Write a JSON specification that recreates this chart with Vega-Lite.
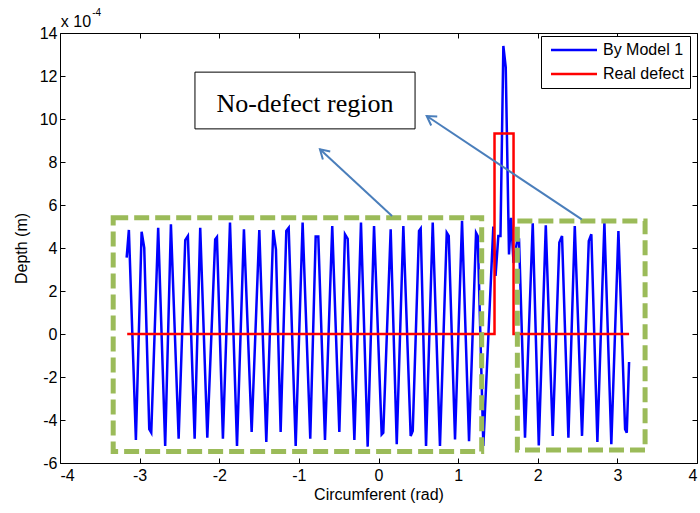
{
  "$schema": "https://vega.github.io/schema/vega-lite/v6.json",
  "width": 637,
  "height": 430,
  "autosize": "none",
  "padding": {"left": 60, "top": 33, "right": 3, "bottom": 50},
  "background": "white",
  "config": {
    "view": {"stroke": "black", "strokeWidth": 1},
    "axis": {
      "grid": false,
      "domain": false,
      "ticks": true,
      "tickSize": -5,
      "tickColor": "black",
      "tickWidth": 1,
      "labelFont": "Liberation Sans",
      "labelFontSize": 16,
      "labelColor": "black",
      "labelExpr": "'' + datum.value",
      "titleFont": "Liberation Sans",
      "titleFontSize": 16,
      "titleFontWeight": "normal",
      "titleColor": "black"
    }
  },
  "datasets": {
    "lines": [
      {"s": "By Model 1", "i": 1, "x": -3.163, "y": 3.55},
      {"s": "By Model 1", "i": 2, "x": -3.135, "y": 4.84},
      {"s": "By Model 1", "i": 3, "x": -3.047, "y": -4.93},
      {"s": "By Model 1", "i": 4, "x": -2.975, "y": 4.76},
      {"s": "By Model 1", "i": 5, "x": -2.942, "y": 4.01},
      {"s": "By Model 1", "i": 6, "x": -2.879, "y": -4.43},
      {"s": "By Model 1", "i": 7, "x": -2.854, "y": -4.59},
      {"s": "By Model 1", "i": 8, "x": -2.767, "y": 4.94},
      {"s": "By Model 1", "i": 9, "x": -2.679, "y": -5.21},
      {"s": "By Model 1", "i": 10, "x": -2.607, "y": 5.10},
      {"s": "By Model 1", "i": 11, "x": -2.510, "y": -4.87},
      {"s": "By Model 1", "i": 12, "x": -2.427, "y": 4.37},
      {"s": "By Model 1", "i": 13, "x": -2.394, "y": 4.56},
      {"s": "By Model 1", "i": 14, "x": -2.309, "y": -4.87},
      {"s": "By Model 1", "i": 15, "x": -2.239, "y": 4.94},
      {"s": "By Model 1", "i": 16, "x": -2.150, "y": -4.82},
      {"s": "By Model 1", "i": 17, "x": -2.051, "y": 4.40},
      {"s": "By Model 1", "i": 18, "x": -2.029, "y": 4.51},
      {"s": "By Model 1", "i": 19, "x": -1.954, "y": -4.87},
      {"s": "By Model 1", "i": 20, "x": -1.865, "y": 5.18},
      {"s": "By Model 1", "i": 21, "x": -1.777, "y": -5.21},
      {"s": "By Model 1", "i": 22, "x": -1.690, "y": 4.87},
      {"s": "By Model 1", "i": 23, "x": -1.593, "y": -4.56},
      {"s": "By Model 1", "i": 24, "x": -1.497, "y": 4.84},
      {"s": "By Model 1", "i": 25, "x": -1.409, "y": -5.02},
      {"s": "By Model 1", "i": 26, "x": -1.322, "y": 4.84},
      {"s": "By Model 1", "i": 27, "x": -1.288, "y": 3.94},
      {"s": "By Model 1", "i": 28, "x": -1.229, "y": -4.56},
      {"s": "By Model 1", "i": 29, "x": -1.158, "y": 4.79},
      {"s": "By Model 1", "i": 30, "x": -1.128, "y": 4.94},
      {"s": "By Model 1", "i": 31, "x": -1.040, "y": -5.21},
      {"s": "By Model 1", "i": 32, "x": -0.953, "y": 5.18},
      {"s": "By Model 1", "i": 33, "x": -0.857, "y": -4.87},
      {"s": "By Model 1", "i": 34, "x": -0.789, "y": 4.53},
      {"s": "By Model 1", "i": 35, "x": -0.756, "y": 4.53},
      {"s": "By Model 1", "i": 36, "x": -0.672, "y": -4.93},
      {"s": "By Model 1", "i": 37, "x": -0.581, "y": 5.02},
      {"s": "By Model 1", "i": 38, "x": -0.492, "y": -4.56},
      {"s": "By Model 1", "i": 39, "x": -0.421, "y": 4.64},
      {"s": "By Model 1", "i": 40, "x": -0.387, "y": 4.43},
      {"s": "By Model 1", "i": 41, "x": -0.303, "y": -4.93},
      {"s": "By Model 1", "i": 42, "x": -0.220, "y": 5.18},
      {"s": "By Model 1", "i": 43, "x": -0.136, "y": -5.24},
      {"s": "By Model 1", "i": 44, "x": -0.056, "y": 5.02},
      {"s": "By Model 1", "i": 45, "x": 0.040, "y": -4.67},
      {"s": "By Model 1", "i": 46, "x": 0.060, "y": -4.59},
      {"s": "By Model 1", "i": 47, "x": 0.153, "y": 4.87},
      {"s": "By Model 1", "i": 48, "x": 0.229, "y": -5.13},
      {"s": "By Model 1", "i": 49, "x": 0.312, "y": 5.02},
      {"s": "By Model 1", "i": 50, "x": 0.404, "y": -4.74},
      {"s": "By Model 1", "i": 51, "x": 0.430, "y": -4.51},
      {"s": "By Model 1", "i": 52, "x": 0.509, "y": 4.79},
      {"s": "By Model 1", "i": 53, "x": 0.530, "y": 4.90},
      {"s": "By Model 1", "i": 54, "x": 0.597, "y": -5.21},
      {"s": "By Model 1", "i": 55, "x": 0.681, "y": 5.18},
      {"s": "By Model 1", "i": 56, "x": 0.772, "y": -5.21},
      {"s": "By Model 1", "i": 57, "x": 0.857, "y": 4.71},
      {"s": "By Model 1", "i": 58, "x": 0.882, "y": 4.56},
      {"s": "By Model 1", "i": 59, "x": 0.961, "y": -4.90},
      {"s": "By Model 1", "i": 60, "x": 1.049, "y": 5.26},
      {"s": "By Model 1", "i": 61, "x": 1.137, "y": -4.99},
      {"s": "By Model 1", "i": 62, "x": 1.225, "y": 4.71},
      {"s": "By Model 1", "i": 63, "x": 1.246, "y": 4.56},
      {"s": "By Model 1", "i": 64, "x": 1.317, "y": -5.21},
      {"s": "By Model 1", "i": 65, "x": 1.442, "y": 5.0},
      {"s": "By Model 1", "i": 66, "x": 1.470, "y": 2.7},
      {"s": "By Model 1", "i": 67, "x": 1.505, "y": 4.56},
      {"s": "By Model 1", "i": 68, "x": 1.532, "y": 4.56},
      {"s": "By Model 1", "i": 69, "x": 1.568, "y": 13.4},
      {"s": "By Model 1", "i": 70, "x": 1.598, "y": 12.4},
      {"s": "By Model 1", "i": 71, "x": 1.639, "y": 3.7},
      {"s": "By Model 1", "i": 72, "x": 1.665, "y": 5.4},
      {"s": "By Model 1", "i": 73, "x": 1.696, "y": 3.3},
      {"s": "By Model 1", "i": 74, "x": 1.744, "y": 4.4},
      {"s": "By Model 1", "i": 75, "x": 1.765, "y": 4.4},
      {"s": "By Model 1", "i": 76, "x": 1.840, "y": -4.82},
      {"s": "By Model 1", "i": 77, "x": 1.937, "y": 5.15},
      {"s": "By Model 1", "i": 78, "x": 2.013, "y": -5.18},
      {"s": "By Model 1", "i": 79, "x": 2.101, "y": 5.06},
      {"s": "By Model 1", "i": 80, "x": 2.188, "y": -4.74},
      {"s": "By Model 1", "i": 81, "x": 2.271, "y": 4.25},
      {"s": "By Model 1", "i": 82, "x": 2.305, "y": 4.56},
      {"s": "By Model 1", "i": 83, "x": 2.385, "y": -4.82},
      {"s": "By Model 1", "i": 84, "x": 2.465, "y": 5.02},
      {"s": "By Model 1", "i": 85, "x": 2.556, "y": -4.74},
      {"s": "By Model 1", "i": 86, "x": 2.641, "y": 4.33},
      {"s": "By Model 1", "i": 87, "x": 2.673, "y": 4.64},
      {"s": "By Model 1", "i": 88, "x": 2.749, "y": -5.02},
      {"s": "By Model 1", "i": 89, "x": 2.837, "y": 5.18},
      {"s": "By Model 1", "i": 90, "x": 2.924, "y": -5.13},
      {"s": "By Model 1", "i": 91, "x": 3.013, "y": 4.79},
      {"s": "By Model 1", "i": 92, "x": 3.097, "y": -4.43},
      {"s": "By Model 1", "i": 93, "x": 3.118, "y": -4.59},
      {"s": "By Model 1", "i": 94, "x": 3.147, "y": -1.30},
      {"s": "Real defect", "i": 1, "x": -3.156, "y": 0},
      {"s": "Real defect", "i": 2, "x": 1.457, "y": 0},
      {"s": "Real defect", "i": 3, "x": 1.457, "y": 9.32},
      {"s": "Real defect", "i": 4, "x": 1.696, "y": 9.32},
      {"s": "Real defect", "i": 5, "x": 1.696, "y": 0},
      {"s": "Real defect", "i": 6, "x": 3.147, "y": 0}
    ],
    "regions": [
      {"x1": -3.332, "x2": 1.296, "y1": 5.41, "y2": -5.47},
      {"x1": 1.744, "x2": 3.348, "y1": 5.26, "y2": -5.40}
    ],
    "note": [
      {"x1": -2.305, "x2": 0.459, "y1": 12.18, "y2": 9.54, "x": -0.923, "y": 10.71, "label": "No-defect region"}
    ],
    "arrows": [
      {"x": 0.170, "y": 5.49, "x2": -0.735, "y2": 8.59},
      {"x": 2.553, "y": 5.33, "x2": 0.606, "y2": 10.14}
    ]
  },
  "layer": [
    {
      "data": {"name": "lines"},
      "mark": {"type": "line", "strokeWidth": 2.5},
      "encoding": {
        "x": {
          "field": "x", "type": "quantitative",
          "scale": {"domain": [-4, 4], "nice": false, "zero": false},
          "axis": {"orient": "bottom", "values": [-4, -3, -2, -1, 0, 1, 2, 3, 4], "title": "Circumferent (rad)", "labelPadding": 9, "titlePadding": 3}
        },
        "y": {
          "field": "y", "type": "quantitative",
          "scale": {"domain": [-6, 14], "nice": false, "zero": false},
          "axis": {"orient": "left", "values": [-6, -4, -2, 0, 2, 4, 6, 8, 10, 12, 14], "title": "Depth (m)", "labelPadding": 8, "titlePadding": 10}
        },
        "order": {"field": "i", "type": "quantitative"},
        "color": {
          "field": "s", "type": "nominal",
          "scale": {"domain": ["By Model 1", "Real defect"], "range": ["#0000FF", "#FF0000"]},
          "legend": {
            "title": null,
            "orient": "none",
            "legendX": 481,
            "legendY": 3,
            "symbolType": "M-4.6,0L4.6,0",
            "symbolSize": 100,
            "symbolStrokeWidth": 2.5,
            "symbolOffset": 19,
            "labelFont": "Liberation Sans",
            "labelFontSize": 16,
            "labelColor": "black",
            "labelOffset": 21,
            "rowPadding": 8,
            "padding": 6,
            "strokeColor": "black",
            "fillColor": "white"
          }
        }
      }
    },
    {
      "data": {"name": "regions"},
      "mark": {"type": "rect", "fillOpacity": 0, "stroke": "#9BBB59", "strokeWidth": 5, "strokeDash": [15, 6]},
      "encoding": {
        "x": {
          "field": "x1", "type": "quantitative",
          "scale": {"domain": [-4, 4], "nice": false, "zero": false},
          "axis": {"orient": "top", "values": [-4, -3, -2, -1, 0, 1, 2, 3, 4], "labels": false, "title": null}
        },
        "x2": {"field": "x2"},
        "y": {
          "field": "y1", "type": "quantitative",
          "scale": {"domain": [-6, 14], "nice": false, "zero": false},
          "axis": {"orient": "right", "values": [-6, -4, -2, 0, 2, 4, 6, 8, 10, 12, 14], "labels": false, "title": null}
        },
        "y2": {"field": "y2"}
      }
    },
    {
      "data": {"name": "note"},
      "mark": {"type": "rect", "fill": "white", "stroke": "black", "strokeWidth": 1},
      "encoding": {
        "x": {"field": "x1", "type": "quantitative", "scale": {"domain": [-4, 4], "nice": false, "zero": false}, "axis": null},
        "x2": {"field": "x2"},
        "y": {"field": "y1", "type": "quantitative", "scale": {"domain": [-6, 14], "nice": false, "zero": false}, "axis": null},
        "y2": {"field": "y2"}
      }
    },
    {
      "data": {"name": "note"},
      "mark": {"type": "text", "font": "Liberation Serif", "fontSize": 26, "color": "black", "align": "center", "baseline": "middle"},
      "encoding": {
        "x": {"field": "x", "type": "quantitative", "scale": {"domain": [-4, 4], "nice": false, "zero": false}, "axis": null},
        "y": {"field": "y", "type": "quantitative", "scale": {"domain": [-6, 14], "nice": false, "zero": false}, "axis": null},
        "text": {"field": "label"}
      }
    },
    {
      "data": {"name": "arrows"},
      "mark": {"type": "rule", "color": "#4A7EBB", "strokeWidth": 2},
      "encoding": {
        "x": {"field": "x", "type": "quantitative", "scale": {"domain": [-4, 4], "nice": false, "zero": false}, "axis": null},
        "y": {"field": "y", "type": "quantitative", "scale": {"domain": [-6, 14], "nice": false, "zero": false}, "axis": null},
        "x2": {"field": "x2"},
        "y2": {"field": "y2"}
      }
    },
    {
      "data": {"values": [{"x": -0.735, "y": 8.59}]},
      "mark": {"type": "point", "shape": "M-0.6,1L0,0L0.6,1", "filled": false, "size": 324, "stroke": "#4A7EBB", "strokeWidth": 2, "angle": 313, "opacity": 1},
      "encoding": {
        "x": {"field": "x", "type": "quantitative", "scale": {"domain": [-4, 4], "nice": false, "zero": false}, "axis": null},
        "y": {"field": "y", "type": "quantitative", "scale": {"domain": [-6, 14], "nice": false, "zero": false}, "axis": null}
      }
    },
    {
      "data": {"values": [{"x": 0.606, "y": 10.14}]},
      "mark": {"type": "point", "shape": "M-0.6,1L0,0L0.6,1", "filled": false, "size": 324, "stroke": "#4A7EBB", "strokeWidth": 2, "angle": 304, "opacity": 1},
      "encoding": {
        "x": {"field": "x", "type": "quantitative", "scale": {"domain": [-4, 4], "nice": false, "zero": false}, "axis": null},
        "y": {"field": "y", "type": "quantitative", "scale": {"domain": [-6, 14], "nice": false, "zero": false}, "axis": null}
      }
    },
    {
      "data": {"values": [{"x": -3.99, "y": 14.30, "t": "x 10"}]},
      "mark": {"type": "text", "font": "Liberation Sans", "fontSize": 16, "color": "black", "align": "left", "baseline": "alphabetic"},
      "encoding": {
        "x": {"field": "x", "type": "quantitative", "scale": {"domain": [-4, 4], "nice": false, "zero": false}, "axis": null},
        "y": {"field": "y", "type": "quantitative", "scale": {"domain": [-6, 14], "nice": false, "zero": false}, "axis": null},
        "text": {"field": "t"}
      }
    },
    {
      "data": {"values": [{"x": -3.595, "y": 14.81, "t": "-4"}]},
      "mark": {"type": "text", "font": "Liberation Sans", "fontSize": 10, "color": "black", "align": "left", "baseline": "alphabetic"},
      "encoding": {
        "x": {"field": "x", "type": "quantitative", "scale": {"domain": [-4, 4], "nice": false, "zero": false}, "axis": null},
        "y": {"field": "y", "type": "quantitative", "scale": {"domain": [-6, 14], "nice": false, "zero": false}, "axis": null},
        "text": {"field": "t"}
      }
    }
  ]
}
